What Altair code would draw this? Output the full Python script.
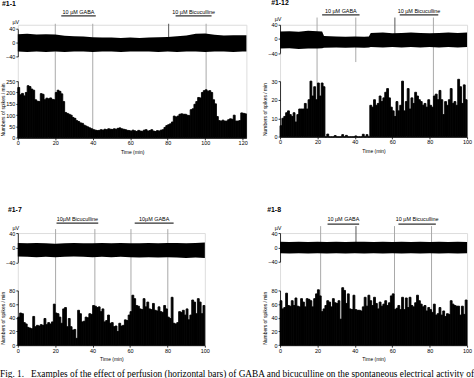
import altair as alt
import pandas as pd

# ---------------- data ----------------
X_TICKS_120 = [0, 20, 40, 60, 80, 100, 120]
X_TICKS_100 = [0, 20, 40, 60, 80, 100]
TRACE_TICKS = [-40, 0, 40]
TRACE_UNIT = "µV"
X_TITLE = "Time (min)"
Y_TITLE = "Numbers of spikes / min"
CAPTION = ("Fig. 1.\u00a0\u00a0\u00a0Examples of the effect of perfusion (horizontal bars) of GABA "
           "and bicuculline on the spontaneous electrical activity of")

# Panel #1-1
P1_LABEL = "#1-1"
P1_COUNTS = [222, 190, 196, 185, 200, 230, 226, 215, 210, 168,
             162, 160, 195, 192, 168, 175, 172, 176, 170, 168,
             200, 210, 205, 194, 160, 112, 108, 104, 100, 90,
             86, 76, 72, 66, 64, 56, 52, 48, 44, 40,
             36, 34, 32, 33, 36, 34, 38, 36, 40, 38,
             37, 40, 38, 42, 44, 40, 38, 36, 33, 32,
             30, 34, 31, 28, 33, 30, 29, 34, 36, 30,
             32, 36, 30, 28, 32, 30, 34, 36, 46, 54,
             58, 62, 70, 96, 92, 96, 104, 106, 104, 104,
             100, 98, 124, 128, 148, 160, 178, 176, 200, 208,
             212, 206, 208, 200, 168, 150, 94, 76, 74, 78,
             74, 74, 80, 84, 82, 100, 74, 74, 76, 110,
             108, 106]
P1_YTICKS = [0, 50, 100, 150, 200, 250]
P1_YMAX = 250
P1_XMAX = 122
P1_TRACE_T = [0, 5, 10, 15, 20, 25, 30, 35, 40, 45, 50, 55, 60, 65, 70, 75, 80, 85, 90, 95,
              100, 105, 110, 115, 120, 122]
P1_TRACE_UP = [25, 26, 24, 25, 24, 20, 19, 18, 16, 15, 15, 14, 15, 14, 15, 16, 17, 19, 21, 26,
               27, 23, 21, 22, 22, 22]
P1_TRACE_LO = [-26, -27, -26, -27, -26, -27, -26, -26, -27, -26, -26, -27, -26, -26, -26, -27,
               -26, -27, -26, -26, -27, -26, -26, -27, -26, -26]
P1_DRUG_NAME = ["10 µM GABA", "10 µM Bicuculline"]
P1_DRUG_START = [23.2, 84.2]
P1_DRUG_END = [41.6, 103.4]
P1_MARK_T = [20, 40, 80.5, 100.5]
P1_MARK_KIND = ["full", "full", "short", "full"]

# Panel #1-12
P2_LABEL = "#1-12"
P2_COUNTS = [6, 10, 11, 13, 14, 12, 11, 13, 8, 12,
             15, 15, 15, 18, 15, 20, 30, 22, 27, 20,
             29, 22, 29, 27, 0, 1.5, 0, 0, 0, 0.7,
             0, 0, 0, 1.2, 0, 0.8, 0, 0, 0, 0,
             0.5, 0, 0, 0, 1.4, 0, 1.2, 0, 17, 16,
             20, 17, 18, 22, 19, 21, 24, 26, 21, 16,
             14, 11, 19, 14, 17, 30, 14, 19, 26, 15,
             21, 18, 24, 22, 20, 19, 17, 18, 16, 20,
             17, 16, 22, 23, 20, 25, 20, 12, 19, 17,
             20, 26, 18, 19, 17, 31, 27, 18, 28, 20]
P2_YTICKS = [0, 10, 20, 30]
P2_YMAX = 30
P2_XMAX = 100
P2_TRACE_T = [0, 5, 10, 15, 20, 22.5, 23.5, 30, 35, 40, 45, 47.5, 48.5, 55, 60, 65, 70, 75,
              80, 85, 90, 95, 100]
P2_TRACE_UP = [21, 22, 20, 23, 22, 21, 8, 7, 6, 7, 6, 7, 17, 18, 16, 17, 18, 17, 16, 17, 18, 17, 18]
P2_TRACE_LO = [-27, -26, -28, -27, -27, -26, -25, -24, -25, -24, -25, -24, -23, -24, -23, -24,
               -23, -24, -23, -24, -23, -24, -23]
P2_DRUG_NAME = ["10 µM GABA", "10 µM Bicuculline"]
P2_DRUG_START = [22.5, 64.0]
P2_DRUG_END = [42.5, 84.6]
P2_MARK_T = [19.8, 40.5, 61.4, 82]
P2_MARK_KIND = ["full", "mid", "short", "full"]

# Panel #1-7
P3_LABEL = "#1-7"
P3_COUNTS = [41, 47, 46, 33, 31, 26, 25, 24, 42, 27,
             29, 28, 30, 29, 39, 30, 33, 31, 34, 60,
             47, 46, 41, 32, 53, 55, 27, 39, 27, 22,
             23, 10, 51, 46, 34, 35, 41, 40, 46, 45,
             58, 57, 55, 56, 49, 53, 34, 36, 44, 32,
             33, 27, 28, 20, 32, 28, 29, 37, 36, 44,
             49, 73, 68, 58, 57, 53, 52, 68, 56, 63,
             53, 52, 61, 51, 50, 56, 49, 48, 58, 53,
             41, 39, 70, 32, 31, 33, 49, 48, 51, 44,
             53, 37, 44, 66, 63, 46, 68, 63, 46, 58]
P3_YTICKS = [0, 20, 40, 60, 80]
P3_YMAX = 80
P3_XMAX = 100
P3_TRACE_T = [0, 5, 10, 15, 20, 25, 30, 35, 40, 45, 50, 55, 60, 65, 70, 75, 80, 85, 90, 95, 100]
P3_TRACE_UP = [13, 12, 13, 12, 11, 12, 13, 12, 12, 13, 12, 13, 12, 12, 13, 12, 13, 13, 12, 13, 14]
P3_TRACE_LO = [-24, -25, -26, -25, -26, -25, -24, -25, -26, -25, -26, -25, -26, -27, -26, -27,
               -26, -27, -28, -27, -28]
P3_DRUG_NAME = ["10µM Bicuculline", "10µM GABA"]
P3_DRUG_START = [20.7, 62.5]
P3_DRUG_END = [43.0, 83.3]
P3_MARK_T = [20.2, 41.2, 60.5, 80.2]
P3_MARK_KIND = ["full", "full", "full", "full"]

# Panel #1-8
P4_LABEL = "#1-8"
P4_COUNTS = [65, 53, 55, 76, 58, 57, 65, 58, 69, 57,
             56, 68, 63, 56, 68, 67, 65, 56, 68, 75,
             81, 72, 49, 53, 58, 65, 63, 56, 68, 62,
             61, 65, 38, 84, 80, 61, 75, 53, 52, 73,
             52, 51, 51, 50, 56, 70, 57, 73, 65, 58,
             70, 61, 53, 63, 57, 60, 65, 58, 62, 72,
             75, 52, 54, 58, 52, 70, 52, 69, 55, 70,
             58, 56, 62, 73, 65, 60, 56, 58, 50, 55,
             52, 48, 60, 44, 46, 55, 44, 50, 42, 46,
             45, 65, 60, 58, 57, 57, 44, 57, 45, 66]
P4_YTICKS = [0, 20, 40, 60, 80]
P4_YMAX = 80
P4_XMAX = 100
P4_TRACE_T = [0, 5, 10, 15, 20, 25, 30, 35, 40, 45, 50, 55, 60, 65, 70, 75, 80, 85, 90, 95, 100]
P4_TRACE_UP = [16, 15, 16, 15, 16, 15, 16, 15, 16, 16, 15, 16, 15, 16, 15, 16, 15, 16, 15, 16, 15]
P4_TRACE_LO = [-16, -17, -16, -17, -16, -17, -16, -17, -16, -17, -16, -17, -16, -17, -16, -17,
               -16, -17, -16, -17, -16]
P4_DRUG_NAME = ["10 µM GABA", "10 µM Bicuculline"]
P4_DRUG_START = [25.4, 63.3]
P4_DRUG_END = [42.3, 83.3]
P4_MARK_T = [21.7, 40.6, 61.2, 81.0]
P4_MARK_KIND = ["full", "short", "full", "full"]

# ---------------- layout / style ----------------
FONT = "Liberation Sans"
LBL = 5.5

# pixel geometry of each panel, relative to its plot area's top-left corner
GEOM = {
    "p1": dict(w=231, h=114.3, t0=4.3, t1=32, htop=57, lx=-16, ly=-21, ux=-2, uy=-2.3,
               dt=-13, db=-9, mtop=-1, mid=40, short=13),
    "p2": dict(w=189, h=113.3, t0=0, t1=28.7, htop=57, lx=-9, ly=-22.3, ux=-2, uy=-5.7,
               dt=-14, db=-10, mtop=-7.3, mid=37.7, short=16),
    "p3": dict(w=189, h=113.3, t0=0, t1=29.6, htop=58, lx=-10, ly=-23, ux=-2, uy=-5.3,
               dt=-14, db=-10, mtop=-4, mid=38, short=10),
    "p4": dict(w=189, h=113.3, t0=0, t1=29, htop=58, lx=-13, ly=-23, ux=-2, uy=-5,
               dt=-14, db=-9, mtop=-7, mid=38, short=10),
}


def panel(key, label, counts, ymax, yticks, xmax, xticks, tt, tup, tlo,
          dname, dstart, dend, mt, mk):
    g = GEOM[key]
    W, H = g["w"], g["h"]
    xs = alt.Scale(domain=[0, xmax], nice=False, zero=False)
    xax = alt.Axis(values=xticks, title=X_TITLE, grid=False, tickSize=2, labelPadding=1,
                   labelFontSize=LBL, titleFontSize=5, titleFontWeight="normal",
                   titlePadding=3, labelFlush=False, labelOverlap=False,
                   domainColor="black", tickColor="black", labelColor="black",
                   titleColor="black", labelFont=FONT, titleFont=FONT,
                   domainWidth=0.8, tickWidth=0.8)

    hist = pd.DataFrame({"start": list(range(len(counts))), "count": counts})
    hist["end"] = hist["start"] + 1
    hist["base"] = 0
    trace = pd.DataFrame({"t": tt, "up": tup, "lo": tlo})
    drugs = pd.DataFrame({"name": dname, "start": dstart, "end": dend})
    drugs["mid"] = (drugs["start"] + drugs["end"]) / 2
    marks = pd.DataFrame({"t": mt, "kind": mk})
    lab = pd.DataFrame({"txt": [label]})
    unit = pd.DataFrame({"txt": [TRACE_UNIT]})

    def X(f):
        return alt.X(f, scale=xs, axis=xax)

    full = alt.Chart(marks).transform_filter(alt.datum.kind == "full").mark_rule(
        color="#a8a8a8", strokeWidth=1).encode(x=X("t:Q"), y=alt.value(g["mtop"]), y2=alt.value(H))
    mid = alt.Chart(marks).transform_filter(alt.datum.kind == "mid").mark_rule(
        color="#a8a8a8", strokeWidth=1).encode(x=X("t:Q"), y=alt.value(g["mtop"]), y2=alt.value(g["mid"]))
    short = alt.Chart(marks).transform_filter(alt.datum.kind == "short").mark_rule(
        color="#555555", strokeWidth=1).encode(x=X("t:Q"), y=alt.value(g["mtop"]), y2=alt.value(g["short"]))

    trace_axis = alt.Axis(orient="left", values=TRACE_TICKS, title=None, grid=False, tickSize=2,
                          labelPadding=1, labelFontSize=LBL, labelFont=FONT, labelColor="black",
                          domainColor="black", tickColor="black", domainWidth=0.8, tickWidth=0.8,
                          labelOverlap=False)
    tr = alt.Chart(trace).mark_area(color="black", interpolate="linear").encode(
        x=X("t:Q"),
        y=alt.Y("up:Q", scale=alt.Scale(domain=[-40, 40], range=[g["t1"], g["t0"]], nice=False, zero=False),
                axis=trace_axis),
        y2="lo:Q")

    hist_axis = alt.Axis(orient="left", values=yticks, title=Y_TITLE, grid=False, tickSize=2,
                         labelPadding=1, labelFontSize=LBL, titleFontSize=5, titleFontWeight="normal",
                         titlePadding=1.5, minExtent=11, maxExtent=11, labelFont=FONT, titleFont=FONT,
                         labelColor="black", titleColor="black", domainColor="black",
                         tickColor="black", domainWidth=0.8, tickWidth=0.8, labelOverlap=False)
    hs = alt.Chart(hist).mark_rect(color="black", stroke="black", strokeWidth=0.9).encode(
        x=X("start:Q"), x2="end:Q",
        y=alt.Y("count:Q", scale=alt.Scale(domain=[0, ymax], range=[H, g["htop"]], nice=False, zero=True),
                axis=hist_axis),
        y2="base:Q")

    dbar = alt.Chart(drugs).mark_rule(color="#333333", strokeWidth=1.2).encode(
        x=X("start:Q"), x2="end:Q", y=alt.value(g["db"]))
    dtxt = alt.Chart(drugs).mark_text(font=FONT, fontSize=LBL, color="black", baseline="middle",
                                      align="center").encode(
        x=X("mid:Q"), y=alt.value(g["dt"]), text="name:N")
    ltxt = alt.Chart(lab).mark_text(font=FONT, fontSize=7, fontWeight="bold", color="black",
                                    baseline="middle", align="left").encode(
        x=alt.value(g["lx"]), y=alt.value(g["ly"]), text="txt:N")
    utxt = alt.Chart(unit).mark_text(font=FONT, fontSize=LBL, color="black", baseline="middle",
                                     align="center").encode(
        x=alt.value(g["ux"]), y=alt.value(g["uy"]), text="txt:N")

    return alt.layer(full, mid, short, tr, hs, dbar, dtxt, ltxt, utxt).resolve_scale(
        y="independent").resolve_axis(y="independent").properties(width=W, height=H)


p1 = panel("p1", P1_LABEL, P1_COUNTS, P1_YMAX, P1_YTICKS, P1_XMAX, X_TICKS_120,
           P1_TRACE_T, P1_TRACE_UP, P1_TRACE_LO, P1_DRUG_NAME, P1_DRUG_START, P1_DRUG_END,
           P1_MARK_T, P1_MARK_KIND)
p2 = panel("p2", P2_LABEL, P2_COUNTS, P2_YMAX, P2_YTICKS, P2_XMAX, X_TICKS_100,
           P2_TRACE_T, P2_TRACE_UP, P2_TRACE_LO, P2_DRUG_NAME, P2_DRUG_START, P2_DRUG_END,
           P2_MARK_T, P2_MARK_KIND)
p3 = panel("p3", P3_LABEL, P3_COUNTS, P3_YMAX, P3_YTICKS, P3_XMAX, X_TICKS_100,
           P3_TRACE_T, P3_TRACE_UP, P3_TRACE_LO, P3_DRUG_NAME, P3_DRUG_START, P3_DRUG_END,
           P3_MARK_T, P3_MARK_KIND)
p4 = panel("p4", P4_LABEL, P4_COUNTS, P4_YMAX, P4_YTICKS, P4_XMAX, X_TICKS_100,
           P4_TRACE_T, P4_TRACE_UP, P4_TRACE_LO, P4_DRUG_NAME, P4_DRUG_START, P4_DRUG_END,
           P4_MARK_T, P4_MARK_KIND)

row1 = alt.hconcat(p1, p2, spacing=14)
row2 = alt.hconcat(p3, p4, spacing=52)

chart = alt.vconcat(row1, row2, spacing=50.5).properties(
    padding={"left": 0, "top": -4, "right": 0, "bottom": 0},
    title=alt.TitleParams(text=CAPTION, orient="bottom", anchor="start", font="Liberation Serif",
                          fontSize=9.4, fontWeight="normal", color="black", offset=8.5),
).configure_view(stroke=None).configure(background="white")

chart.save("out.html", embed_options={"renderer": "svg", "actions": False})
